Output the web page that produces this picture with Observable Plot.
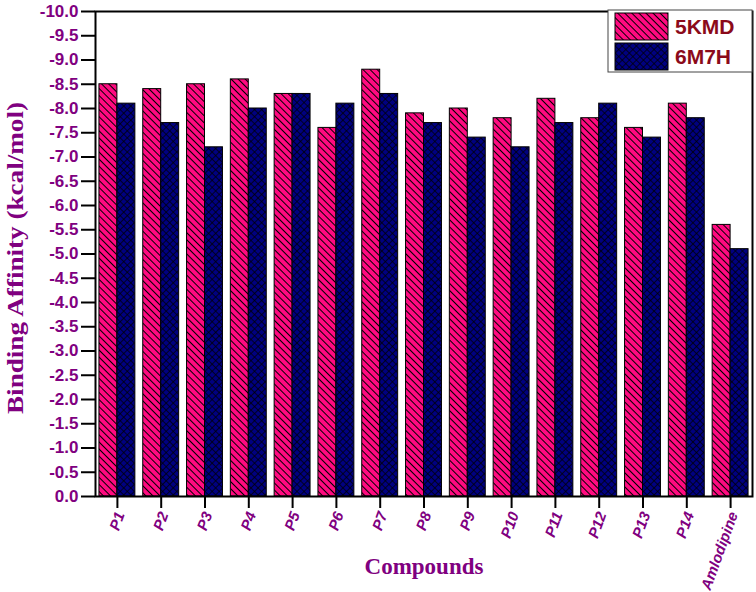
<!DOCTYPE html>
<html>
<head>
<meta charset="utf-8">
<script src="https://cdn.jsdelivr.net/npm/d3@7"></script>
<script src="https://cdn.jsdelivr.net/npm/@observablehq/plot@0.6"></script>
<style>
  body { margin: 0; background: #fff; }
  #chart { position: relative; width: 756px; height: 592px; }
</style>
</head>
<body>
<div id="chart"></div>
<script>
const compounds = ["P1","P2","P3","P4","P5","P6","P7","P8","P9","P10","P11","P12","P13","P14","Amlodipine"];
const series = ["5KMD", "6M7H"];
const values5KMD = [8.5, 8.4, 8.5, 8.6, 8.3, 7.6, 8.8, 7.9, 8.0, 7.8, 8.2, 7.8, 7.6, 8.1, 5.6];
const values6M7H = [8.1, 7.7, 7.2, 8.0, 8.3, 8.1, 8.3, 7.7, 7.4, 7.2, 7.7, 8.1, 7.4, 7.8, 5.1];
const yTicks = d3.range(0, 21).map(i => i * 0.5);

const purple = "#800080";
const pink = "#FF0A80";
const navy = "#000080";
const legendText = "#8B0A1A";

const W = 756, H = 592;
const mL = 95, mR = 4, mT = 11, mB = 96;
const padIn = 0.18, padOut = 0.09;
const step = (W - mL - mR) / (compounds.length - padIn + 2 * padOut);
const half = step * (1 - padIn) / 2;

const rowsA = compounds.map((c, i) => ({compound: c, series: series[0], value: values5KMD[i]}));
const rowsB = compounds.map((c, i) => ({compound: c, series: series[1], value: values6M7H[i]}));

const fmt = d => d === 0 ? "0.0" : "-" + d.toFixed(1);
const serif = "'Liberation Serif', 'Times New Roman', serif";

const plot = Plot.plot({
  width: W, height: H,
  marginLeft: mL, marginRight: mR, marginTop: mT, marginBottom: mB,
  style: {fontFamily: "'Liberation Sans', Arial, sans-serif", background: "#fff", overflow: "visible"},
  x: {domain: compounds, paddingInner: padIn, paddingOuter: padOut, round: false, label: null},
  y: {domain: [0, 10], label: null},
  marks: [
    Plot.barY(rowsA, {x: "compound", y: "value", fill: "url(#hatchPink)", stroke: "black", strokeWidth: 1, insetRight: half}),
    Plot.barY(rowsB, {x: "compound", y: "value", fill: "url(#hatchNavy)", stroke: "black", strokeWidth: 1, insetLeft: half}),
    Plot.frame({stroke: "black", strokeWidth: 2}),
    Plot.axisY({ticks: yTicks, tickFormat: fmt, tickSize: 14, tickPadding: 3, strokeWidth: 2, label: null}),
    Plot.axisX({tickSize: 12, tickPadding: 4, tickRotate: -70, strokeWidth: 2, label: null}),
    Plot.text(["Compounds"], {frameAnchor: "bottom", dy: 77, fontFamily: serif, fontSize: 23, fontWeight: "bold", fill: purple}),
    Plot.text(["Binding Affinity (kcal/mol)"], {frameAnchor: "left", dx: -80, dy: 4, rotate: -90, textAnchor: "middle", fontFamily: serif, fontSize: 24, fontWeight: "bold", fill: purple})
  ]
});

const svg = d3.select(plot);
const defs = svg.insert("defs", ":first-child");
const pA = defs.append("pattern").attr("id", "hatchPink").attr("patternUnits", "userSpaceOnUse")
  .attr("width", 5).attr("height", 5).attr("patternTransform", "rotate(-45)");
pA.append("rect").attr("width", 5).attr("height", 5).attr("fill", pink);
pA.append("line").attr("x1", 2.5).attr("y1", 0).attr("x2", 2.5).attr("y2", 5).attr("stroke", "black").attr("stroke-width", 1);
const pB = defs.append("pattern").attr("id", "hatchNavy").attr("patternUnits", "userSpaceOnUse")
  .attr("width", 5).attr("height", 5).attr("patternTransform", "rotate(45)");
pB.append("rect").attr("width", 5).attr("height", 5).attr("fill", navy);
pB.append("line").attr("x1", 2.5).attr("y1", 0).attr("x2", 2.5).attr("y2", 5).attr("stroke", "black").attr("stroke-width", 0.7);
pB.append("line").attr("x1", 0).attr("y1", 2.5).attr("x2", 5).attr("y2", 2.5).attr("stroke", "black").attr("stroke-width", 0.7);

svg.selectAll('[aria-label="y-axis tick label"] text')
  .style("fill", purple).style("font-size", "17px").style("font-weight", "bold");
svg.selectAll('[aria-label="x-axis tick label"] text')
  .style("fill", purple).style("font-size", "15px").style("font-weight", "bold").style("font-style", "italic");
svg.selectAll('[aria-label="x-axis tick label"]').each(function() {
  const t = this.getAttribute("transform") || "";
  this.setAttribute("transform", ("translate(3,0) " + t).trim());
});
svg.selectAll('[aria-label="y-axis tick"], [aria-label="x-axis tick"]').attr("stroke", "black");
svg.selectAll("text").filter(function() { return this.textContent === "Binding Affinity (kcal/mol)"; })
  .attr("textLength", 312).attr("lengthAdjust", "spacingAndGlyphs");

// legend
const lg = svg.append("g").attr("class", "legend").attr("text-anchor", "start");
lg.append("rect").attr("x", 608).attr("y", 10).attr("width", 144).attr("height", 62)
  .attr("fill", "white").attr("stroke", "#444").attr("stroke-width", 1);
const fills = ["url(#hatchPink)", "url(#hatchNavy)"];
series.forEach((s, i) => {
  lg.append("rect").attr("x", 615).attr("y", 13 + i * 30).attr("width", 53).attr("height", 27)
    .attr("fill", fills[i]).attr("stroke", "black").attr("stroke-width", 1);
  lg.append("text").attr("x", 675).attr("y", 34 + i * 30).attr("fill", legendText)
    .attr("text-anchor", "start")
    .attr("font-size", 21).attr("font-weight", "bold")
    .attr("font-family", "'Liberation Sans', Arial, sans-serif").text(s);
});

document.getElementById("chart").appendChild(plot);
</script>
</body>
</html>
